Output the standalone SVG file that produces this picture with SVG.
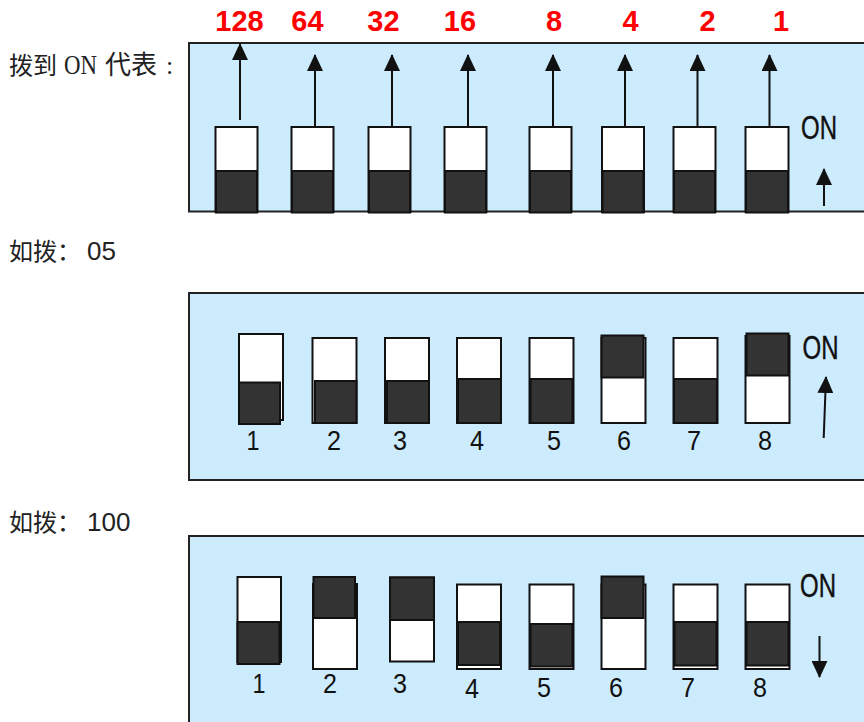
<svg xmlns="http://www.w3.org/2000/svg" width="864" height="722" viewBox="0 0 864 722">
<style>
.panel{fill:#CCEBFD;stroke:#222;stroke-width:2}
.w{fill:#fff;stroke:#111;stroke-width:2}
.d{fill:#333;stroke:#111;stroke-width:2}
.red{font-family:"Liberation Sans",Arial,sans-serif;font-weight:bold;font-size:29px;fill:#F00;text-anchor:middle}
.num{font-family:"Liberation Sans",Arial,sans-serif;font-size:28px;fill:#111;text-anchor:middle}
.on{font-family:"Liberation Sans",Arial,sans-serif;font-size:33px;fill:#111;stroke:#111;stroke-width:0.4}
.cap{font-family:"Noto Sans CJK SC",sans-serif;font-size:24px;fill:#222}
.capd{font-family:"Liberation Sans",Arial,sans-serif;font-size:26px;fill:#222}
.ar{stroke:#111;stroke-width:2;fill:none}
</style>
<defs>
<marker id="ah" markerWidth="17" markerHeight="16" viewBox="0 0 17 16" refX="16" refY="8" orient="auto" markerUnits="userSpaceOnUse">
<path d="M0 0 L17 8 L0 16 Z" fill="#111"/>
</marker>
</defs>

<!-- captions -->
<g id="caption1">
<text class="cap" y="74"><tspan x="9">拨到</tspan><tspan x="64" font-family="Liberation Serif" textLength="33" lengthAdjust="spacingAndGlyphs" font-size="28px">ON</tspan><tspan x="105" font-size="26px">代表</tspan><tspan x="166" font-family="Liberation Serif" font-size="26px">:</tspan></text>
</g>
<g id="caption2">
<text class="cap" y="260"><tspan x="9">如拨：</tspan><tspan x="87" class="capd">05</tspan></text>
</g>
<g id="caption3">
<text class="cap" y="531"><tspan x="9">如拨：</tspan><tspan x="87" class="capd">100</tspan></text>
</g>

<!-- panel 1 -->
<g id="panel1">
<rect class="panel" x="189" y="43" width="690" height="168.5"/>
<g id="p1-labels">
<text class="red" x="239.5" y="31">128</text>
<text class="red" x="307.5" y="31">64</text>
<text class="red" x="383.5" y="31">32</text>
<text class="red" x="460" y="31">16</text>
<text class="red" x="554" y="31">8</text>
<text class="red" x="630.5" y="31">4</text>
<text class="red" x="707.5" y="31">2</text>
<text class="red" x="781" y="31">1</text>
</g>
<g id="p1-s1"><rect class="w" x="215.5" y="127" width="42" height="85"/><rect class="d" x="216" y="171" width="41" height="41.5"/></g>
<g id="p1-s2"><rect class="w" x="291.5" y="127" width="42" height="85"/><rect class="d" x="292" y="171" width="41" height="41.5"/></g>
<g id="p1-s3"><rect class="w" x="368.5" y="127" width="42" height="85"/><rect class="d" x="369" y="171" width="41" height="41.5"/></g>
<g id="p1-s4"><rect class="w" x="444.5" y="127" width="42" height="85"/><rect class="d" x="445" y="171" width="41" height="41.5"/></g>
<g id="p1-s5"><rect class="w" x="529.5" y="127" width="42" height="85"/><rect class="d" x="530" y="171" width="41" height="41.5"/></g>
<g id="p1-s6"><rect class="w" x="602" y="127" width="42" height="85"/><rect class="d" x="602.5" y="171" width="41" height="41.5"/></g>
<g id="p1-s7"><rect class="w" x="673.5" y="127" width="42" height="85"/><rect class="d" x="674" y="171" width="41" height="41.5"/></g>
<g id="p1-s8"><rect class="w" x="745.5" y="127" width="43" height="85"/><rect class="d" x="746" y="171" width="42" height="41.5"/></g>
<text class="on" x="801" y="139" textLength="36" lengthAdjust="spacingAndGlyphs">ON</text>
</g>

<!-- panel 2 -->
<g id="panel2">
<rect class="panel" x="189" y="293" width="690" height="187"/>
<g id="p2-s1"><rect class="w" x="239" y="334" width="44" height="86"/><rect class="d" x="239" y="382.5" width="41" height="41.5"/></g>
<g id="p2-s2"><rect class="w" x="312.5" y="338" width="44" height="85"/><rect class="d" x="315" y="381" width="41.5" height="42"/></g>
<g id="p2-s3"><rect class="w" x="385" y="338" width="44" height="85"/><rect class="d" x="387" y="381" width="42" height="42"/></g>
<g id="p2-s4"><rect class="w" x="457" y="338" width="44" height="85"/><rect class="d" x="458" y="379" width="43" height="44"/></g>
<g id="p2-s5"><rect class="w" x="529.5" y="338" width="44" height="85"/><rect class="d" x="530.5" y="379" width="42" height="44"/></g>
<g id="p2-s6"><rect class="w" x="601.5" y="338" width="44" height="85"/><rect class="d" x="601.5" y="335.5" width="42" height="42"/></g>
<g id="p2-s7"><rect class="w" x="673.5" y="338" width="44" height="85"/><rect class="d" x="674" y="379" width="43" height="44"/></g>
<g id="p2-s8"><rect class="w" x="745.5" y="336" width="44" height="87"/><rect class="d" x="746.5" y="333.5" width="42" height="42"/></g>
<g id="p2-nums">
<text class="num" x="253" y="450" textLength="13" lengthAdjust="spacingAndGlyphs">1</text>
<text class="num" x="334" y="450" textLength="14" lengthAdjust="spacingAndGlyphs">2</text>
<text class="num" x="400" y="450" textLength="14" lengthAdjust="spacingAndGlyphs">3</text>
<text class="num" x="477" y="450" textLength="14" lengthAdjust="spacingAndGlyphs">4</text>
<text class="num" x="554" y="450" textLength="14" lengthAdjust="spacingAndGlyphs">5</text>
<text class="num" x="624" y="450" textLength="14" lengthAdjust="spacingAndGlyphs">6</text>
<text class="num" x="694" y="450" textLength="14" lengthAdjust="spacingAndGlyphs">7</text>
<text class="num" x="765" y="450" textLength="14" lengthAdjust="spacingAndGlyphs">8</text>
</g>
<text class="on" x="802.5" y="359" textLength="36" lengthAdjust="spacingAndGlyphs">ON</text>
</g>

<!-- panel 3 -->
<g id="panel3">
<rect class="panel" x="189" y="536" width="690" height="200"/>
<g id="p3-s1"><rect class="w" x="237.5" y="577" width="43.5" height="85"/><rect class="d" x="237.5" y="622" width="42" height="42"/></g>
<g id="p3-s2"><rect class="w" x="313" y="584" width="44" height="85"/><rect class="d" x="313.5" y="577" width="41.5" height="41"/></g>
<g id="p3-s3"><rect class="w" x="390" y="577.5" width="44" height="84"/><rect class="d" x="390" y="577.5" width="44" height="42.5"/></g>
<g id="p3-s4"><rect class="w" x="457" y="584.5" width="44" height="84.5"/><rect class="d" x="458" y="622" width="42" height="43"/></g>
<g id="p3-s5"><rect class="w" x="529.5" y="584.5" width="44" height="84.5"/><rect class="d" x="530.5" y="624" width="42" height="42.5"/></g>
<g id="p3-s6"><rect class="w" x="601.5" y="584.5" width="44" height="84.5"/><rect class="d" x="601.5" y="576.5" width="42" height="41.5"/></g>
<g id="p3-s7"><rect class="w" x="673.5" y="584.5" width="44" height="84.5"/><rect class="d" x="674.5" y="622" width="42" height="43.5"/></g>
<g id="p3-s8"><rect class="w" x="745.5" y="584.5" width="44" height="84.5"/><rect class="d" x="746.5" y="622" width="42" height="43.5"/></g>
<g id="p3-nums">
<text class="num" x="259" y="693" textLength="13" lengthAdjust="spacingAndGlyphs">1</text>
<text class="num" x="330" y="693" textLength="14" lengthAdjust="spacingAndGlyphs">2</text>
<text class="num" x="400" y="693" textLength="14" lengthAdjust="spacingAndGlyphs">3</text>
<text class="num" x="472" y="698" textLength="14" lengthAdjust="spacingAndGlyphs">4</text>
<text class="num" x="544" y="697" textLength="14" lengthAdjust="spacingAndGlyphs">5</text>
<text class="num" x="616" y="697" textLength="14" lengthAdjust="spacingAndGlyphs">6</text>
<text class="num" x="688" y="697" textLength="14" lengthAdjust="spacingAndGlyphs">7</text>
<text class="num" x="760" y="697" textLength="14" lengthAdjust="spacingAndGlyphs">8</text>
</g>
<text class="on" x="800" y="597" textLength="36" lengthAdjust="spacingAndGlyphs">ON</text>
</g>

<!-- connectors / arrows -->
<g id="connectors">
<line class="ar" x1="240" y1="120" x2="240" y2="44" marker-end="url(#ah)"/>
<line class="ar" x1="315" y1="127" x2="315" y2="55" marker-end="url(#ah)"/>
<line class="ar" x1="392" y1="127" x2="392" y2="55" marker-end="url(#ah)"/>
<line class="ar" x1="468" y1="127" x2="468" y2="55" marker-end="url(#ah)"/>
<line class="ar" x1="553" y1="127" x2="553" y2="55" marker-end="url(#ah)"/>
<line class="ar" x1="625" y1="127" x2="625" y2="55" marker-end="url(#ah)"/>
<line class="ar" x1="697.5" y1="127" x2="697.5" y2="55" marker-end="url(#ah)"/>
<line class="ar" x1="769.5" y1="127" x2="769.5" y2="55" marker-end="url(#ah)"/>
<line class="ar" x1="824" y1="206" x2="824" y2="169" marker-end="url(#ah)"/>
<line class="ar" x1="823.7" y1="438" x2="826" y2="377" marker-end="url(#ah)"/>
<line class="ar" x1="819.5" y1="636" x2="819.5" y2="677" marker-end="url(#ah)"/>
</g>
</svg>
